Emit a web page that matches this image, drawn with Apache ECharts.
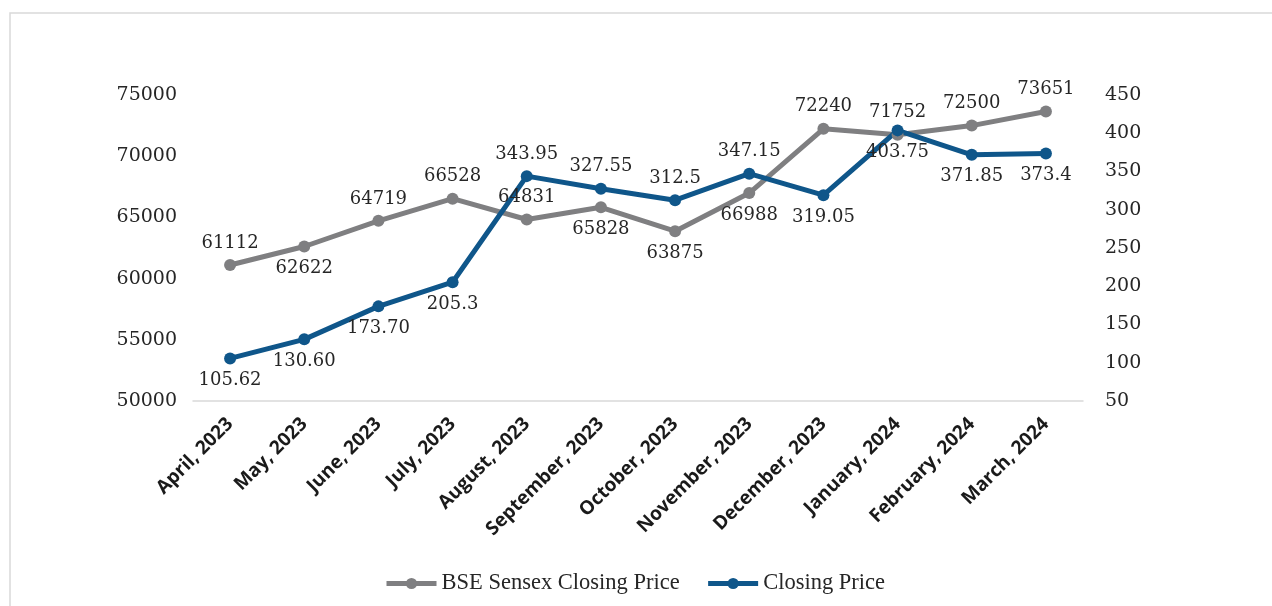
<!DOCTYPE html>
<html>
<head>
<meta charset="utf-8">
<script src="https://cdn.jsdelivr.net/npm/echarts@6/dist/echarts.min.js"></script>
<style>
  html, body { margin: 0; padding: 0; background: #fff; }
  #chart { width: 1272px; height: 606px; }
</style>
</head>
<body>
<div id="chart"></div>
<script>
const months = ['April, 2023', 'May, 2023', 'June, 2023', 'July, 2023', 'August, 2023', 'September, 2023',
  'October, 2023', 'November, 2023', 'December, 2023', 'January, 2024', 'February, 2024', 'March, 2024']
const sensex = [61112, 62622, 64719, 66528, 64831, 65828, 63875, 66988, 72240, 71752, 72500, 73651]
const closing = [105.62, 130.60, 173.70, 205.3, 343.95, 327.55, 312.5, 347.15, 319.05, 403.75, 371.85, 373.4]
// text as printed on the chart
const closingText = ['105.62', '130.60', '173.70', '205.3', '343.95', '327.55', '312.5', '347.15', '319.05', '403.75', '371.85', '373.4']
// label side for each point
const sensexPos = ['top', 'bottom', 'top', 'top', 'top', 'bottom', 'bottom', 'bottom', 'top', 'top', 'top', 'top']
const closingPos = ['bottom', 'bottom', 'bottom', 'bottom', 'top', 'top', 'top', 'top', 'bottom', 'bottom', 'bottom', 'bottom']

const grey = '#7f7f81'
const blue = '#0f568a'
const numFont = 'DejaVu Serif'

const labelStyle = { fontFamily: numFont, fontSize: 18, color: '#262626', distance: 7 }

const option = {
  animation: false,
  graphic: [{
    type: 'rect',
    shape: { x: 10, y: 13, width: 1400, height: 800 },
    style: { fill: 'none', stroke: '#d9d9d9', lineWidth: 1.5 },
    silent: true
  }],
  grid: { left: 193, right: 189, top: 95, bottom: 205 },
  legend: {
    top: 572,
    left: 384,
    padding: 0,
    itemWidth: 50,
    itemHeight: 14,
    itemGap: 26,
    lineStyle: { width: 5 },
    textStyle: { fontFamily: 'Liberation Serif', fontSize: 22.5, color: '#262626' },
    data: ['BSE Sensex Closing Price', 'Closing Price']
  },
  xAxis: {
    type: 'category',
    data: months,
    axisTick: { show: false },
    axisLine: { lineStyle: { color: '#d9d9d9', width: 1.5 } },
    axisLabel: {
      rotate: 45,
      interval: 0,
      margin: 20,
      fontFamily: 'Open Sans',
      fontWeight: 'bold',
      fontSize: 19,
      color: '#1a1a1a'
    }
  },
  yAxis: [
    {
      type: 'value',
      min: 50000, max: 75000, interval: 5000,
      axisLine: { show: false }, axisTick: { show: false }, splitLine: { show: false },
      axisLabel: { fontFamily: numFont, fontSize: 19, color: '#262626', margin: 16, formatter: v => String(v) }
    },
    {
      type: 'value',
      min: 50, max: 450, interval: 50,
      axisLine: { show: false }, axisTick: { show: false }, splitLine: { show: false },
      axisLabel: { fontFamily: numFont, fontSize: 19, color: '#262626', margin: 22 }
    }
  ],
  series: [
    {
      name: 'BSE Sensex Closing Price',
      type: 'line',
      yAxisIndex: 0,
      symbol: 'circle',
      symbolSize: 12,
      lineStyle: { color: grey, width: 5 },
      itemStyle: { color: grey },
      data: sensex.map((v, i) => ({ value: v, label: { show: true, position: sensexPos[i], ...labelStyle } }))
    },
    {
      name: 'Closing Price',
      type: 'line',
      yAxisIndex: 1,
      symbol: 'circle',
      symbolSize: 12,
      lineStyle: { color: blue, width: 5 },
      itemStyle: { color: blue },
      data: closing.map((v, i) => ({
        value: v,
        label: { show: true, position: closingPos[i], formatter: closingText[i], ...labelStyle }
      }))
    }
  ]
}

const chart = echarts.init(document.getElementById('chart'))
chart.setOption(option)
window.onresize = function () {
  chart.resize()
}
</script>
</body>
</html>
